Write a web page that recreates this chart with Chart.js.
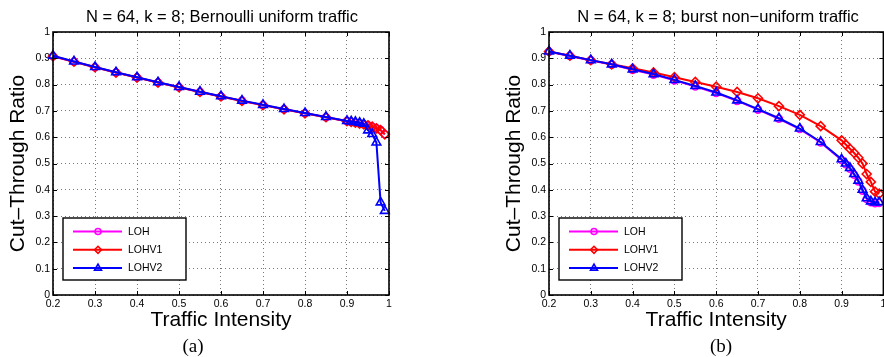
<!DOCTYPE html>
<html>
<head>
<meta charset="utf-8">
<script src="https://cdn.jsdelivr.net/npm/chart.js@4/dist/chart.umd.min.js"></script>
<style>
  html, body { margin: 0; padding: 0; background: #fff; overflow: hidden; }
  body { width: 884px; height: 357px; position: relative; }
  canvas { position: absolute; top: 0; }
  .ttl { position: absolute; top: 7px; font: 16.5px "Liberation Sans", Arial, sans-serif; color: #000; white-space: nowrap; transform: translateX(-50%); }
  .cap { position: absolute; top: 335px; font: 19px "Liberation Serif", "Times New Roman", serif; color: #000; transform: translateX(-50%); }
</style>
</head>
<body>
<canvas id="plotA" width="440" height="357" style="left:0"></canvas>
<canvas id="plotB" width="450" height="357" style="left:440px"></canvas>
<div class="ttl" style="left:222px">N = 64, k = 8; Bernoulli uniform traffic</div>
<div class="ttl" style="left:718px">N = 64, k = 8; burst non&#8722;uniform traffic</div>
<div class="cap" style="left:193px">(a)</div>
<div class="cap" style="left:721px">(b)</div>
<script>
// traffic intensity sampled on both plots
const loads = [0.2, 0.25, 0.3, 0.35, 0.4, 0.45, 0.5, 0.55, 0.6, 0.65, 0.7, 0.75, 0.8, 0.85, 0.9,
    0.91, 0.92, 0.93, 0.94, 0.95, 0.96, 0.97, 0.98, 0.99];
const seriesNames = ['LOH', 'LOHV1', 'LOHV2'];
const xTickLabels = ['0.2', '0.3', '0.4', '0.5', '0.6', '0.7', '0.8', '0.9', '1'];
const yTickLabels = ['0', '0.1', '0.2', '0.3', '0.4', '0.5', '0.6', '0.7', '0.8', '0.9', '1'];

// (a) Bernoulli uniform traffic
const uniLOH = [0.908, 0.887, 0.866, 0.846, 0.827, 0.808, 0.790, 0.772, 0.755, 0.738, 0.722, 0.706, 0.691, 0.676, 0.661,
    0.658, 0.655, 0.652, 0.649, 0.645, 0.640, 0.634, 0.627, 0.611];
const uniLOHV1 = [0.908, 0.887, 0.866, 0.846, 0.827, 0.808, 0.790, 0.772, 0.755, 0.738, 0.722, 0.706, 0.691, 0.676, 0.661,
    0.658, 0.655, 0.652, 0.649, 0.645, 0.640, 0.634, 0.627, 0.611];
const uniLOHV2 = [0.910, 0.888, 0.867, 0.847, 0.828, 0.809, 0.791, 0.773, 0.756, 0.739, 0.723, 0.707, 0.692, 0.677, 0.662,
    0.660, 0.658, 0.655, 0.651, 0.626, 0.612, 0.580, 0.352, 0.320];

// (b) burst non-uniform traffic
const burLOH = [0.925, 0.909, 0.892, 0.876, 0.856, 0.838, 0.816, 0.793, 0.768, 0.738, 0.705, 0.670, 0.631, 0.580, 0.513,
    0.497, 0.480, 0.457, 0.432, 0.397, 0.365, 0.353, 0.349, 0.350];
const burLOHV1 = [0.926, 0.910, 0.893, 0.877, 0.862, 0.846, 0.828, 0.810, 0.792, 0.772, 0.748, 0.718, 0.685, 0.642, 0.588,
    0.572, 0.556, 0.540, 0.522, 0.500, 0.460, 0.430, 0.393, 0.385];
const burLOHV2 = [0.926, 0.910, 0.893, 0.877, 0.858, 0.840, 0.818, 0.795, 0.770, 0.740, 0.707, 0.672, 0.633, 0.582, 0.516,
    0.500, 0.483, 0.460, 0.435, 0.400, 0.368, 0.356, 0.352, 0.353];

const styles = [
    { color: '#ff00ff', point: 'circle', radius: 3.5, legendRadius: 3 },
    { color: '#ff0000', point: 'rectRot', radius: 4.5, legendRadius: 3.5 },
    { color: '#0000ff', point: 'triangle', radius: 5, legendRadius: 4 }
];

function makeSet(i, values) {
    return {
        label: seriesNames[i],
        data: values.map((v, k) => ({ x: loads[k], y: v })),
        order: 2 - i, // LOHV2 ends up on top, like the original
        borderColor: styles[i].color,
        backgroundColor: 'rgba(0,0,0,0)',
        pointBackgroundColor: 'rgba(0,0,0,0)',
        pointBorderColor: styles[i].color,
        pointStyle: styles[i].point,
        pointRadius: styles[i].radius,
        pointBorderWidth: 1.6,
        borderWidth: 2,
        tension: 0,
        clip: false
    };
}

// black box, inward ticks and the MATLAB style legend
const matlabFrame = {
    id: 'matlabFrame',
    afterDatasetsDraw(chart) {
        const { ctx, chartArea: a, scales } = chart;
        ctx.save();
        ctx.strokeStyle = '#000';
        ctx.lineWidth = 1;
        ctx.beginPath();
        scales.x.ticks.forEach(t => {
            const px = Math.round(scales.x.getPixelForValue(t.value)) + 0.5;
            ctx.moveTo(px, a.bottom); ctx.lineTo(px, a.bottom - 4);
            ctx.moveTo(px, a.top); ctx.lineTo(px, a.top + 4);
        });
        scales.y.ticks.forEach(t => {
            const py = Math.round(scales.y.getPixelForValue(t.value)) + 0.5;
            ctx.moveTo(a.left, py); ctx.lineTo(a.left + 4, py);
            ctx.moveTo(a.right, py); ctx.lineTo(a.right - 4, py);
        });
        ctx.stroke();
        ctx.lineWidth = 1.6;
        ctx.strokeRect(a.left, a.top, a.right - a.left, a.bottom - a.top);

        // legend box
        const bx = a.left + 10, by = a.top + 186, bw = 123, bh = 62;
        ctx.fillStyle = '#fff';
        ctx.fillRect(bx, by, bw, bh);
        ctx.lineWidth = 1.4;
        ctx.strokeRect(bx, by, bw, bh);
        ctx.font = '10.5px "Liberation Sans", Arial, sans-serif';
        ctx.textBaseline = 'middle';
        const order = [...chart.data.datasets].sort((p, q) => seriesNames.indexOf(p.label) - seriesNames.indexOf(q.label));
        order.forEach((ds, i) => {
            const st = styles[seriesNames.indexOf(ds.label)];
            const y = by + 13.5 + i * 18.3;
            ctx.strokeStyle = ds.borderColor;
            ctx.lineWidth = 2;
            ctx.beginPath();
            ctx.moveTo(bx + 10, y); ctx.lineTo(bx + 59, y);
            ctx.stroke();
            ctx.lineWidth = 1.6;
            ctx.fillStyle = 'rgba(0,0,0,0)';
            Chart.helpers.drawPoint(ctx, { pointStyle: ds.pointStyle, radius: st.legendRadius, rotation: 0, borderWidth: 1.6 }, bx + 35, y);
            ctx.fillStyle = '#000';
            ctx.fillText(ds.label, bx + 65, y + 0.5);
        });
        ctx.restore();
    }
};

function buildPlot(id, padLeft, sets) {
    const fontTick = { family: '"Liberation Sans", Arial, sans-serif', size: 10.5 };
    const fontTitle = { family: '"Liberation Sans", Arial, sans-serif', size: 21 };
    return new Chart(document.getElementById(id), {
        type: 'line',
        data: { datasets: sets },
        options: {
            responsive: false,
            animation: false,
            devicePixelRatio: 1,
            layout: { padding: { left: padLeft, right: id === 'plotA' ? 51 : 5, top: 32, bottom: 22 } },
            plugins: { legend: { display: false }, tooltip: { enabled: false }, title: { display: false } },
            scales: {
                x: {
                    type: 'linear',
                    min: 0.2, max: 1,
                    afterBuildTicks: s => { s.ticks = xTickLabels.map(v => ({ value: +v })); },
                    afterFit: s => { s.height = 40; },
                    ticks: { color: '#000', font: fontTick, padding: 3, maxRotation: 0,
                        callback: (v, i) => xTickLabels[i] },
                    grid: { color: '#777', lineWidth: 1, drawTicks: false },
                    border: { display: false, dash: [1, 3] },
                    title: { display: true, text: 'Traffic Intensity', color: '#000', font: fontTitle, padding: { top: 0, bottom: 2 } }
                },
                y: {
                    min: 0, max: 1,
                    afterBuildTicks: s => { s.ticks = yTickLabels.map(v => ({ value: +v })); },
                    afterFit: s => { s.width = 53; },
                    ticks: { color: '#000', font: fontTick, padding: 3,
                        callback: (v, i) => yTickLabels[i] },
                    grid: { color: '#777', lineWidth: 1, drawTicks: false },
                    border: { display: false, dash: [1, 3] },
                    title: { display: true, text: 'Cut\u2013Through Ratio', color: '#000', font: fontTitle, padding: { top: 6, bottom: 0 } }
                }
            }
        },
        plugins: [matlabFrame]
    });
}

buildPlot('plotA', 0, [makeSet(0, uniLOH), makeSet(1, uniLOHV1), makeSet(2, uniLOHV2)]);
buildPlot('plotB', 56, [makeSet(0, burLOH), makeSet(1, burLOHV1), makeSet(2, burLOHV2)]);
</script>
</body>
</html>
